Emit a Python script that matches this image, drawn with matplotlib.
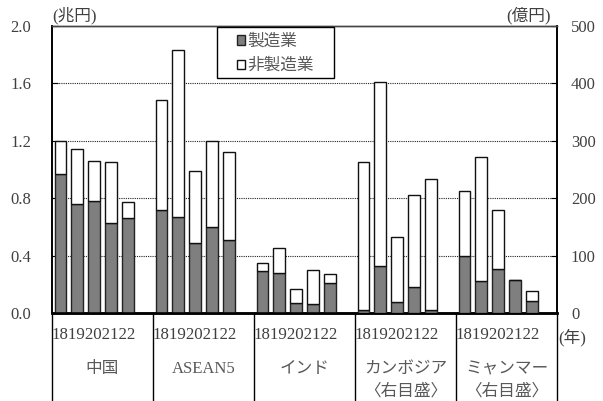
import matplotlib
matplotlib.use("Agg")
import matplotlib.pyplot as plt
import matplotlib.transforms as mtransforms
from matplotlib.patches import Patch, Rectangle
import numpy as np

plt.rcParams['font.family'] = ['Liberation Serif', 'Noto Sans CJK JP']

years = ['18', '19', '20', '21', '22']
group_names = [['中国'], ['ASEAN5'], ['インド'], ['カンボジア', '〈右目盛〉'], ['ミャンマー', '〈右目盛〉']]

# left axis (兆円)
china_mfg = [0.97, 0.76, 0.78, 0.63, 0.66]
china_non = [0.23, 0.38, 0.28, 0.42, 0.11]
asean_mfg = [0.72, 0.67, 0.49, 0.60, 0.51]
asean_non = [0.76, 1.16, 0.50, 0.60, 0.61]
india_mfg = [0.29, 0.28, 0.07, 0.06, 0.21]
india_non = [0.06, 0.17, 0.10, 0.24, 0.06]
# right axis (億円)
cambodia_mfg = [5, 82, 19, 46, 6]
cambodia_non = [257, 320, 113, 160, 227]
myanmar_mfg = [100, 56, 77, 58, 21]
myanmar_non = [112, 216, 102, 0, 18]

left_ticks = [0.0, 0.4, 0.8, 1.2, 1.6, 2.0]
right_ticks = [0, 100, 200, 300, 400, 500]

GRAY = '#7f7f7f'
TXT = '#404040'
W, H = 603, 401

fig = plt.figure(figsize=(6.03, 4.01), dpi=100)
ax = fig.add_axes([52/W, 1-313/H, 505/W, (313-25.7)/H])
ax2 = ax.twinx()

gw = 6
bw = 0.7
xs = np.arange(5) + 0.5

def draw(a, g, mfg, non):
    x = g*gw + xs
    a.bar(x, mfg, bw, color=GRAY, edgecolor='#222222', linewidth=1.0, zorder=3)
    a.bar(x, non, bw, bottom=mfg, color='white', edgecolor='#111111', linewidth=1.0, zorder=3)

draw(ax, 0, china_mfg, china_non)
draw(ax, 1, asean_mfg, asean_non)
draw(ax, 2, india_mfg, india_non)
draw(ax2, 3, cambodia_mfg, cambodia_non)
draw(ax2, 4, myanmar_mfg, myanmar_non)

ax.set_xlim(0, 5*gw)
ax.set_ylim(0, 2.0)
ax2.set_ylim(0, 500)
ax.set_yticks(left_ticks)
ax.set_yticklabels([f'{v:.1f}' for v in left_ticks])
ax2.set_yticks(right_ticks)
ax2.set_yticklabels([str(v) for v in right_ticks])
ax.set_xticks([])
ax.tick_params(axis='y', direction='in', length=4, pad=15, labelsize=12, labelcolor=TXT)
ax2.tick_params(axis='y', direction='in', length=4, pad=10, labelsize=12, labelcolor=TXT)

for v in left_ticks[1:-1]:
    ax.axhline(v, color='#222222', linestyle=(0, (1, 1)), linewidth=0.8, zorder=1)

for a in (ax, ax2):
    a.spines['left'].set_linewidth(1.2)
    a.spines['right'].set_linewidth(1.2)
    a.spines['top'].set_color('#444444')
    a.spines['top'].set_linewidth(1.0)
    a.spines['bottom'].set_linewidth(1.8)

trans = mtransforms.blended_transform_factory(ax.transData, ax.transAxes)
for g in range(6):
    ax.plot([g*gw, g*gw], [0, -0.31], color='black', linewidth=1.0, transform=trans, clip_on=False)

for g in range(5):
    ax.text(g*gw + xs.mean(), -0.077, ''.join(years), transform=trans, ha='center', va='center',
            fontsize=12.2, color=TXT)
    lines = group_names[g]
    ax.text(g*gw + 3.0, -0.195, lines[0], transform=trans, ha='center', va='center',
            fontsize=12, color='#595959')
    if len(lines) > 1:
        ax.text(g*gw + 3.0, -0.272, lines[1], transform=trans, ha='center', va='center',
                fontsize=12, color='#595959')

fig.text(52/W, 1-16/H, '(兆円)', ha='left', va='center', fontsize=12, color=TXT)
fig.text(551/W, 1-16/H, '(億円)', ha='right', va='center', fontsize=12, color=TXT)
fig.text(572/W, 1-338/H, '(年)', ha='center', va='center', fontsize=12, color=TXT)

# legend frame
frame = Rectangle((216.7/W, 1-78/H), (334.3-216.7)/W, (78-26.7)/H, transform=fig.transFigure,
                  facecolor='white', edgecolor='black', linewidth=1.0, zorder=4)
fig.patches.append(frame)

handles = [Patch(facecolor=GRAY, edgecolor='#222222', linewidth=1.0),
           Patch(facecolor='white', edgecolor='#111111', linewidth=1.0)]
leg = fig.legend(handles, ['製造業', '非製造業'], loc='center left',
                 bbox_to_anchor=(237/W, 1-54/H), bbox_transform=fig.transFigure,
                 borderaxespad=0, borderpad=0, frameon=False, fontsize=12,
                 handlelength=0.5, handleheight=0.5, handletextpad=0.15, labelspacing=0.5)
for t in leg.get_texts():
    t.set_color('#595959')
leg.set_zorder(6)

fig.savefig('out.png', dpi=100)
